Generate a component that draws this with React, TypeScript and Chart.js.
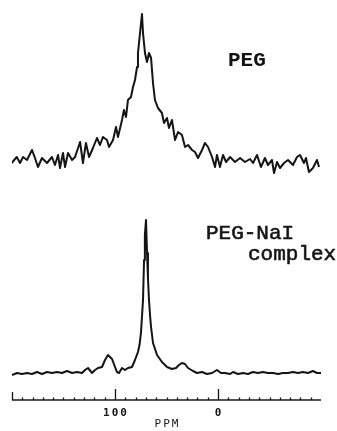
import { useEffect, useRef } from "react";
import { Chart, registerables } from "chart.js";

Chart.register(...registerables);

// Chemical shift axis (ppm), drawn high-to-low from left to right
const axisMin = -100;
const axisMax = 200;
const minorStep = 10;
const majorTickValues = [100, 0];
const tickLabelValues = [100, 0];
const tickLabelTexts = ["100", "0"];
const axisTitle = "PPM";

// PEG spectrum
const topPpm = [
  200.3, 195.4, 192.2, 189.3, 185.4, 180.6, 177.7, 174.8, 170.9, 166.0,
  161.2, 158.3, 155.3, 153.4, 150.5, 148.5, 145.6, 141.7, 138.8, 133.9,
  131.1, 128.2, 125.2, 121.4, 117.5, 114.6, 111.7, 107.8, 105.8, 101.9,
  99.0, 97.1, 93.2, 91.3, 89.3, 87.4, 84.5, 82.5, 80.6, 78.6,
  77.7, 75.7, 73.8, 72.8, 70.9, 68.9, 67.0, 65.0, 63.1, 61.2,
  58.3, 54.4, 52.4, 49.5, 47.6, 44.7, 41.7, 38.8, 35.0, 32.0,
  29.1, 25.2, 22.3, 19.4, 15.5, 12.6, 9.7, 5.8, 2.9, 1.0,
  -1.9, -4.9, -7.8, -11.7, -16.5, -21.4, -26.2, -31.1, -34.0, -37.9,
  -41.7, -45.6, -48.5, -52.4, -54.4, -57.3, -60.2, -64.1, -68.0, -72.8,
  -76.7, -79.6, -83.5, -85.4, -88.3, -92.2, -96.1, -98.1,
];
const topIntensity = [
  -3, 3, -3, 3, 0, 10, 2, -7, 2, -3,
  3, -5, 5, -8, 7, -7, 7, 0, 3, 18,
  -3, 17, 3, 12, 22, 15, 23, 20, 13, 20,
  33, 23, 40, 50, 43, 60, 63, 73, 80, 93,
  107, 127, 146, 127, 107, 98, 107, 102, 77, 60,
  52, 47, 37, 42, 32, 40, 20, 28, 25, 13,
  15, 10, 8, 2, 10, 17, 13, 3, -7, 5,
  -7, 5, -2, 3, -2, 2, -2, 1, -3, 5,
  -7, 2, -5, 0, -13, -2, -8, -3, 0, -5,
  3, 5, -3, 2, -12, -8, 0, -7,
];

// PEG-NaI complex spectrum
const bottomPpm = [
  200, 195.1, 190.3, 185.4, 180.6, 175.7, 170.9, 166.0, 161.2, 156.3,
  151.5, 146.6, 141.7, 136.9, 132.0, 129.1, 126.2, 122.3, 119.4, 116.5,
  112.6, 109.7, 106.8, 102.9, 100.0, 98.1, 96.1, 93.2, 90.3, 87.4,
  83.5, 80.6, 77.7, 76.2, 74.8, 72.8, 71.8, 71.0, 69.9, 68.9,
  68.0, 67.0, 66.0, 65.0, 63.1, 59.2, 54.4, 49.5, 44.7, 40.8,
  37.9, 35.0, 32.0, 29.1, 24.3, 20.4, 15.5, 10.7, 5.8, 1.0,
  -2.9, -6.8, -11.7, -14.6, -19.4, -24.3, -29.1, -34.0, -38.8, -43.7,
  -48.5, -53.4, -58.3, -63.1, -68.0, -72.8, -77.7, -82.5, -87.4, -92.2,
  -96.1, -100,
];
const bottomIntensity = [
  -2, 0, -1, 0, -1, 1, -1, 1, 0, 1,
  0, 2, 0, 1, 0, 3, 5, 0, 3, 5,
  6, 13, 18, 14, 6, 1, 0, 5, 3, 5,
  6, 13, 21, 28, 40, 73, 113, 138, 153, 120,
  95, 73, 58, 46, 30, 18, 11, 6, 4, 5,
  8, 10, 9, 5, 2, 0, 1, -1, 0, 3,
  0, 0, -1, 1, -1, 0, -1, 1, 0, 1,
  0, 0, -1, 0, 0, 1, 0, 1, 0, 2,
  0, 0,
];

// vertical lift of the upper trace above the lower one
const topLift = 213;

const sampleNames = ["PEG", "PEG-NaI", "complex"];

const INK = "#141414";

const toPoints = (xs: number[], ys: number[], lift: number) =>
  xs.map((x, i) => ({ x, y: ys[i] + lift }));

const spectrumDecor = {
  id: "spectrumDecor",
  afterDatasetsDraw(chart: any) {
    const { ctx, chartArea, scales } = chart;
    const xs = scales.x;
    const ys = scales.y;
    const base = chartArea.bottom;
    ctx.save();
    ctx.strokeStyle = INK;
    ctx.fillStyle = INK;

    // axis line
    ctx.lineWidth = 1.7;
    ctx.beginPath();
    ctx.moveTo(xs.getPixelForValue(axisMax), base);
    ctx.lineTo(xs.getPixelForValue(axisMin), base);
    ctx.stroke();

    // tick marks pointing up from the axis
    ctx.lineWidth = 1.3;
    ctx.beginPath();
    for (let v = axisMin; v <= axisMax; v += minorStep) {
      const px = Math.round(xs.getPixelForValue(v)) + 0.5;
      let h = 2.5;
      if (majorTickValues.includes(v)) h = 11;
      else if (v === axisMax) h = 8;
      else if (v === axisMin) h = 0;
      if (h > 0) {
        ctx.moveTo(px, base);
        ctx.lineTo(px, base - h);
      }
    }
    ctx.stroke();

    // tick labels
    ctx.font = 'bold 11px "DejaVu Sans Mono"';
    (ctx as any).letterSpacing = "2px";
    ctx.textAlign = "center";
    ctx.textBaseline = "alphabetic";
    tickLabelValues.forEach((v, i) => {
      ctx.fillText(tickLabelTexts[i], xs.getPixelForValue(v) + 1, base + 16);
    });

    // axis title
    ctx.font = '11px "DejaVu Sans Mono"';
    (ctx as any).letterSpacing = "2px";
    ctx.fillText(axisTitle, xs.getPixelForValue((axisMin + axisMax) / 2) + 1, base + 27);

    // sample names, typewriter style with a slightly heavier stroke
    (ctx as any).letterSpacing = "0px";
    ctx.textAlign = "left";
    ctx.lineWidth = 0.6;
    ctx.font = 'bold 21px "Liberation Mono"';
    const pegX = xs.getPixelForValue(-9.7);
    const pegY = ys.getPixelForValue(307);
    ctx.fillText(sampleNames[0], pegX, pegY);
    ctx.font = '21px "Liberation Mono"';
    const n1x = xs.getPixelForValue(11.7);
    const n1y = ys.getPixelForValue(134);
    const n2x = xs.getPixelForValue(-29.1);
    const n2y = ys.getPixelForValue(113);
    ctx.fillText(sampleNames[1], n1x, n1y);
    ctx.strokeText(sampleNames[1], n1x, n1y);
    ctx.fillText(sampleNames[2], n2x, n2y);
    ctx.strokeText(sampleNames[2], n2x, n2y);
    ctx.restore();
  },
};

export default function App() {
  const canvasRef = useRef<HTMLCanvasElement | null>(null);

  useEffect(() => {
    if (!canvasRef.current) return;
    const chart = new Chart(canvasRef.current, {
      type: "line",
      data: {
        datasets: [
          {
            label: "PEG",
            data: toPoints(topPpm, topIntensity, topLift),
            borderColor: INK,
            borderWidth: 2,
            pointRadius: 0,
            tension: 0,
            fill: false,
            borderJoinStyle: "round",
          },
          {
            label: "PEG-NaI complex",
            data: toPoints(bottomPpm, bottomIntensity, 0),
            borderColor: INK,
            borderWidth: 2,
            pointRadius: 0,
            tension: 0,
            fill: false,
            borderJoinStyle: "round",
          },
        ],
      },
      options: {
        animation: false,
        responsive: true,
        maintainAspectRatio: false,
        events: [],
        layout: { padding: { left: 12, right: 16, top: 8, bottom: 31 } },
        plugins: {
          legend: { display: false },
          tooltip: { enabled: false },
        },
        scales: {
          x: {
            type: "linear",
            display: false,
            min: axisMin,
            max: axisMax,
            reverse: true,
          },
          y: {
            display: false,
            min: -27,
            max: 365,
          },
        },
      },
      plugins: [spectrumDecor],
    });
    return () => chart.destroy();
  }, []);

  return (
    <div
      style={{
        position: "absolute",
        left: 0,
        top: 0,
        width: 337,
        height: 431,
        background: "#fff",
      }}
    >
      <canvas ref={canvasRef} />
    </div>
  );
}
